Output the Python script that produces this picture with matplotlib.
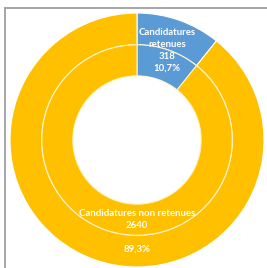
import numpy as np
import matplotlib.pyplot as plt
from matplotlib.lines import Line2D

labels = ['Candidatures retenues', 'Candidatures non retenues']
values = [318, 2640]
pct_text = ['10,7%', '89,3%']
colors = ['#5B9BD5', '#FFC000']

plt.rcParams['font.family'] = ['Lato', 'DejaVu Sans']

fig = plt.figure(figsize=(2.67, 2.68), dpi=100)
ax = fig.add_axes([0, 0, 1, 1])

# two rings with the same data (outer and inner)
ax.pie(values, radius=1.0, colors=colors, startangle=90, counterclock=False,
       wedgeprops=dict(width=0.25, edgecolor='white', linewidth=0.8))
ax.pie(values, radius=0.75, colors=colors, startangle=90, counterclock=False,
       wedgeprops=dict(width=0.245, edgecolor='#FFF3C8', linewidth=0.8))

# labels
total = sum(values)
mid = 90 - 360 * values[0] / total / 2
a = np.deg2rad(mid + 1)
ax.text(0.745 * np.cos(a), 0.745 * np.sin(a),
        labels[0].replace(' ', '\n') + '\n' + str(values[0]) + '\n' + pct_text[0],
        ha='center', va='center', color='white', fontsize=6.9,
        fontweight='bold', linespacing=1.4)

ax.text(0, -0.625, labels[1] + '\n' + str(values[1]),
        ha='center', va='center', color='white', fontsize=6.9,
        fontweight='bold', linespacing=1.4)
ax.text(0, -0.86, pct_text[1], ha='center', va='center', color='white',
        fontsize=6.9, fontweight='bold')

ax.set_xlim(-137 / 127, 130 / 127)
ax.set_ylim(-128 / 127, 140 / 127)
ax.set_aspect('equal')
ax.axis('off')

# chart frame (left and top visible)
fig.add_artist(Line2D([5 / 267, 5 / 267], [0, 1 - 8 / 268], color='#A6A6A6', lw=1.4))
fig.add_artist(Line2D([5 / 267, 1], [1 - 8 / 268, 1 - 8 / 268], color='#A6A6A6', lw=1.4))

fig.savefig('out.png', dpi=100)
